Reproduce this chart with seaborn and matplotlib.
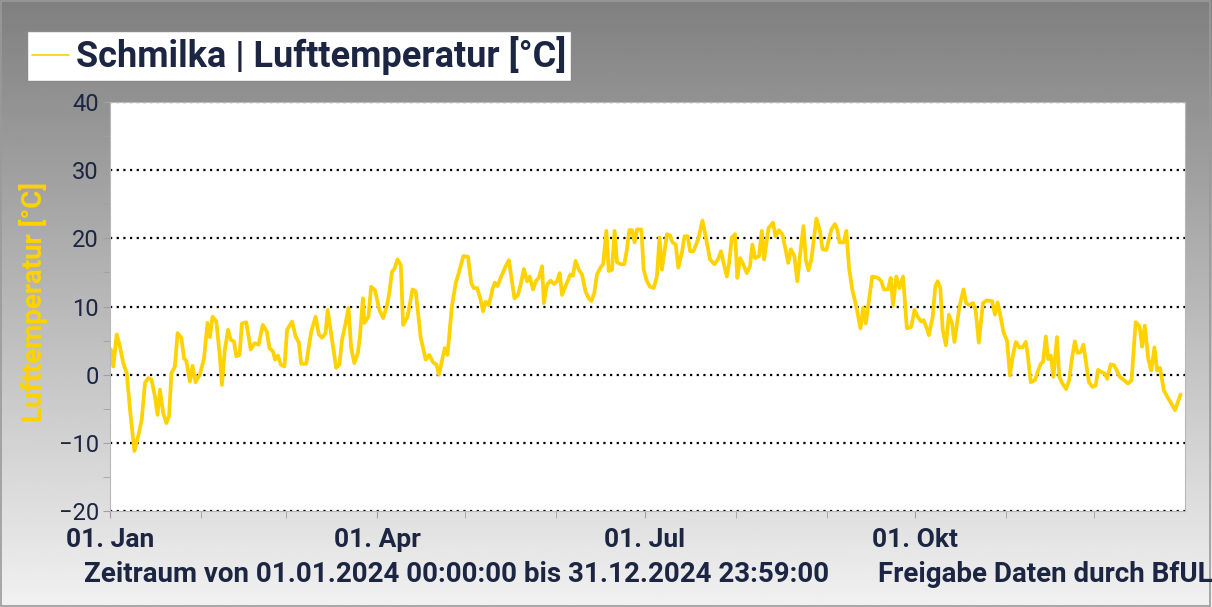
import numpy as np
import pandas as pd
import matplotlib
matplotlib.use("Agg")
import matplotlib.pyplot as plt
import matplotlib.dates as mdates
from matplotlib.lines import Line2D
from matplotlib.patches import Rectangle
import seaborn as sns

# Daily air temperature Schmilka 2024
# (offset in days from 01.01.2024, value in degC)
day_offset = [
    0.3, 1.1, 2.3, 3.4, 4.5, 5.7, 6.8, 8.3, 9.6, 10.8, 11.9, 13.0, 14.1, 15.3, 16.2,
    17.0, 18.1, 19.2, 20.1, 20.9, 22.1, 23.0, 24.3, 25.2, 26.0, 27.2, 28.1, 29.1, 30.6,
    32.0, 33.2, 34.0, 34.9, 36.2, 37.4, 38.1, 39.1, 40.2, 41.1, 42.2, 43.0, 44.1, 44.9,
    46.4, 47.9, 49.2, 50.6, 52.0, 53.4, 54.3, 55.5, 56.2, 57.2, 58.1, 59.4, 60.3, 62.0,
    63.2, 64.3, 65.1, 66.8, 68.5, 70.0, 71.1, 72.2, 73.4, 74.1, 75.6, 77.0, 78.1, 79.0,
    80.1, 81.2, 82.1, 83.2, 84.4, 85.1, 86.1, 86.6, 88.0, 88.9, 90.2, 91.7, 93.0, 94.2,
    95.1, 96.0, 96.8, 97.9, 99.0, 99.8, 101.3, 103.0, 104.1, 105.8, 107.5, 108.7, 110.0,
    111.1, 112.0, 113.2, 114.0, 114.9, 116.4, 117.7, 118.8, 120.3, 121.9, 123.0, 123.9,
    125.0, 126.2, 127.0, 127.9, 129.0, 130.2, 131.0, 131.9, 133.2, 134.7, 135.8, 136.6,
    137.7, 138.9, 139.8, 140.9, 142.0, 142.9, 144.0, 145.1, 146.0, 147.1, 147.7, 148.8,
    150.0, 151.1, 152.2, 153.1, 153.9, 155.1, 156.7, 157.6, 158.5, 159.6, 160.7, 161.9,
    163.0, 163.9, 164.9, 165.8, 167.0, 167.9, 169.0, 169.8, 170.9, 171.8, 172.6, 174.0,
    175.1, 176.0, 176.8, 177.7, 178.6, 179.4, 180.9, 181.7, 182.8, 183.9, 185.1, 186.2,
    187.1, 187.9, 189.6, 190.7, 191.5, 192.6, 193.5, 194.7, 195.6, 196.7, 197.5, 198.6,
    200.3, 201.7, 202.8, 204.3, 205.8, 207.1, 208.0, 208.8, 210.0, 210.8, 211.7, 212.8,
    213.6, 214.5, 215.6, 216.8, 217.9, 218.7, 219.6, 221.0, 221.9, 222.7, 224.2, 225.7,
    226.6, 227.7, 228.9, 230.0, 230.9, 231.8, 233.0, 234.0, 234.9, 236.1, 236.9, 237.8,
    238.8, 240.5, 241.7, 242.6, 243.9, 245.6, 246.8, 247.6, 248.4, 249.8, 250.7, 251.6,
    252.7, 254.1, 255.5, 256.4, 257.3, 258.6, 259.5, 261.5, 262.6, 263.5, 264.9, 265.8,
    266.6, 267.7, 268.8, 270.0, 271.3, 272.8, 273.9, 275.0, 276.2, 277.0, 277.9, 278.8,
    280.1, 281.0, 281.8, 282.7, 283.5, 284.6, 285.6, 286.7, 287.5, 289.2, 290.6, 291.5,
    292.6, 293.8, 294.7, 295.8, 297.2, 298.5, 300.3, 301.3, 302.2, 303.2, 304.2, 305.4,
    306.4, 307.3, 308.4, 309.6, 310.7, 311.8, 312.4, 313.5, 314.9, 316.0, 316.9, 317.7,
    318.6, 319.4, 320.3, 321.2, 322.4, 323.2, 324.3, 325.5, 326.6, 327.4, 328.5, 329.4,
    330.5, 331.4, 332.2, 333.3, 334.5, 335.6, 336.4, 337.5, 338.6, 339.5, 340.7, 341.8,
    342.7, 343.8, 345.2, 346.6, 347.8, 349.2, 350.5, 351.4, 352.3, 353.5, 354.5, 355.6,
    356.5, 357.5, 358.8, 360.2, 361.3, 362.6, 364.5,
]
temperature = [
    3.7, 1.2, 5.9, 4.1, 1.7, 0.2, -5.1, -11.2, -9.0, -6.6, -1.2, -0.5, -0.7, -3.2, -5.9,
    -2.2, -5.6, -7.1, -6.1, 0.2, 1.2, 6.1, 5.4, 2.4, 2.0, -1.0, 1.3, -1.1, 0.0,
    2.4, 7.6, 5.5, 8.5, 7.8, 2.7, -1.5, 3.7, 6.6, 5.1, 4.9, 2.7, 2.9, 7.5,
    7.7, 3.7, 4.6, 4.4, 7.3, 6.3, 3.9, 3.4, 2.2, 2.8, 1.5, 1.2, 6.6, 7.8,
    5.6, 4.7, 1.6, 1.6, 6.3, 8.5, 5.9, 5.4, 6.1, 9.5, 5.1, 1.0, 1.5, 5.1,
    7.3, 9.8, 3.9, 1.7, 3.2, 5.6, 11.2, 7.6, 8.5, 12.9, 12.4, 9.5, 8.3, 10.0,
    12.0, 15.1, 15.5, 16.9, 16.1, 7.3, 8.5, 12.5, 12.2, 5.4, 2.2, 2.9, 1.8,
    1.5, 0.0, 2.4, 3.9, 2.9, 10.0, 13.4, 15.0, 17.4, 17.3, 13.4, 12.7,
    12.7, 11.0, 9.3, 10.7, 10.2, 12.5, 13.5, 13.0, 14.4, 15.9, 16.8, 14.4,
    11.2, 11.7, 13.2, 15.5, 13.7, 14.4, 12.5, 13.8, 14.2, 15.9, 10.5, 13.2,
    13.8, 13.3, 13.7, 14.9, 11.7, 13.0, 14.7, 14.5, 16.7, 15.4, 14.7, 12.2,
    11.2, 10.8, 12.0, 14.7, 15.7, 16.2, 21.1, 15.2, 15.4, 21.1, 16.5, 16.2,
    16.2, 18.4, 21.2, 21.2, 19.4, 21.3, 21.3, 15.4, 13.7, 12.9, 12.7, 14.4,
    20.1, 15.4, 20.6, 20.4, 19.4, 19.1, 15.7, 17.9, 20.3, 20.3, 18.1, 18.1,
    19.9, 22.6, 20.3, 16.9, 16.2, 17.0, 18.1, 16.6, 14.4, 16.4, 20.1, 20.6,
    14.2, 17.1, 16.2, 14.9, 15.9, 19.1, 17.1, 17.4, 21.1, 16.9, 21.5, 22.3,
    20.3, 21.2, 20.6, 18.4, 16.4, 18.4, 17.4, 13.7, 17.4, 21.8, 16.9, 15.3,
    16.9, 22.9, 21.1, 18.4, 18.3, 21.3, 22.1, 21.3, 19.4, 19.4, 21.1, 15.7,
    12.5, 10.0, 6.8, 9.8, 7.5, 11.5, 14.4, 14.2, 13.7, 12.5, 12.5, 14.2,
    10.2, 14.4, 12.7, 14.4, 6.8, 7.0, 9.5, 8.5, 7.8, 8.0, 7.0, 5.8,
    8.5, 13.0, 13.7, 12.7, 6.6, 4.3, 8.8, 7.5, 4.8, 10.0, 12.5, 10.5,
    10.2, 10.5, 9.5, 4.7, 10.5, 10.9, 10.8, 8.8, 10.6, 8.5, 6.2, 5.0,
    -0.1, 2.6, 4.8, 4.0, 4.0, 4.8, 3.1, -1.1, -0.8, 0.6, 1.6, 1.9,
    5.6, 2.3, 2.8, -0.3, 5.5, -0.3, -1.3, -2.1, -0.8, 2.1, 4.9, 3.2,
    3.3, 4.4, 2.1, -1.1, -1.8, -1.6, 0.7, 0.4, 0.2, -0.6, 1.5, 1.4,
    0.7, -0.3, -0.8, -1.3, -0.8, 7.7, 7.1, 4.1, 7.2, 2.3, 0.6, 4.0,
    0.6, 1.0, -2.3, -3.4, -4.2, -5.2, -2.9,
]

series_name = "Schmilka | Lufttemperatur [°C]"
x_labels = ["01. Jan", "01. Apr", "01. Jul", "01. Okt"]
y_ticks = [-20, -10, 0, 10, 20, 30, 40]

navy = "#1c2541"
gold = "#FFD200"

start = pd.Timestamp("2024-01-01")
df = pd.DataFrame({
    "date": start + pd.to_timedelta(day_offset, unit="D"),
    "temp": temperature,
})

sns.set_style("white")
plt.rcParams["font.family"] = ["Roboto", "DejaVu Sans"]

fig = plt.figure(figsize=(12.12, 6.07), dpi=100)

# grey gradient background over the whole figure
bg = fig.add_axes([0, 0, 1, 1], zorder=-10)
grad = np.linspace(0.50, 0.945, 256).reshape(-1, 1)
bg.imshow(grad, aspect="auto", cmap="gray", vmin=0, vmax=1,
          extent=[0, 1, 0, 1], origin="upper")
bg.set_axis_off()
fig.patches.append(Rectangle((0.001, 0.002), 0.997, 0.996, transform=fig.transFigure,
                             fill=False, edgecolor="#9a9a9a", lw=1.2))

ax = fig.add_axes([110 / 1212, 1 - 511 / 607, 1075 / 1212, 409 / 607])
ax.set_facecolor("white")

sns.lineplot(data=df, x="date", y="temp", ax=ax, color=gold, lw=2.7,
             estimator=None, sort=False)

ax.set_xlim(start, pd.Timestamp("2024-12-31 23:59"))
ax.set_ylim(-20, 40)
ax.set_yticks(y_ticks)
ax.yaxis.set_minor_locator(matplotlib.ticker.MultipleLocator(5))
ax.yaxis.grid(True, which="major", color="black", linestyle=(0, (1, 2.0)), lw=1.6)
ax.xaxis.grid(False)

ax.set_xticks([pd.Timestamp(f"2024-{m:02d}-01") for m in (1, 4, 7, 10)])
ax.set_xticklabels(x_labels, fontsize=19, fontweight="bold", color=navy)
ax.xaxis.set_minor_locator(mdates.MonthLocator())
ax.tick_params(axis="x", which="both", length=5, color="#a0a0a0", pad=7, bottom=True)
ax.tick_params(axis="y", which="both", length=5, color="#a0a0a0", left=True,
               labelsize=17, labelcolor=navy, pad=3)

ax.set_xlabel("")
ax.set_ylabel("Lufttemperatur [°C]", color=gold, fontsize=20, fontweight="bold")
ax.yaxis.set_label_coords(-0.058, 0.51)

for side in ax.spines.values():
    side.set_color("#b8b8b8")
    side.set_linewidth(0.8)

handle = Line2D([], [], color=gold, lw=1.2)
leg = fig.legend([handle], [series_name], loc="upper left",
                 bbox_to_anchor=(27 / 1212, 1 - 31 / 607), frameon=True,
                 fancybox=False, handlelength=1.0, handletextpad=0.2,
                 borderpad=0.15, borderaxespad=0,
                 prop={"size": 26, "weight": "bold"})
leg.get_frame().set_edgecolor("#8a8a8a")
leg.get_frame().set_facecolor("white")
leg.get_frame().set_alpha(1)
for t in leg.get_texts():
    t.set_color(navy)

fig.text(84 / 1212, 1 - 574 / 607, "Zeitraum von 01.01.2024 00:00:00 bis 31.12.2024 23:59:00",
         fontsize=20, fontweight="bold", color=navy, va="center", ha="left")
fig.text(878 / 1212, 1 - 574 / 607, "Freigabe Daten durch BfUL",
         fontsize=20, fontweight="bold", color=navy, va="center", ha="left")

fig.savefig("out.png", dpi=100)
